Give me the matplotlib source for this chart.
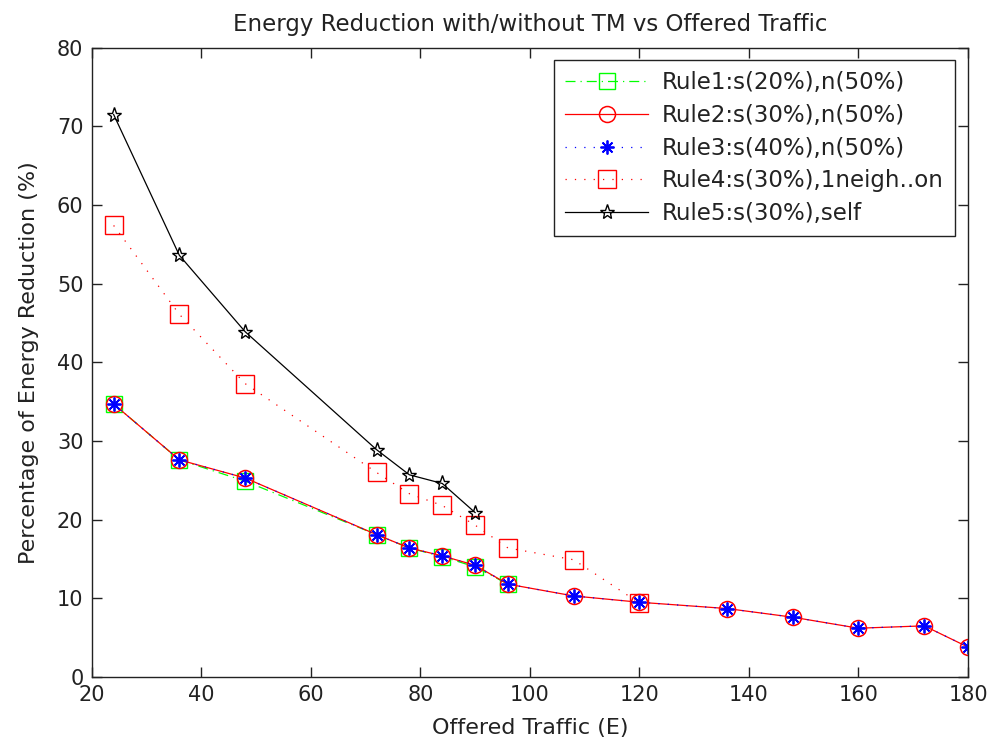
import matplotlib
matplotlib.use("Agg")
import matplotlib.pyplot as plt

plt.rcParams['font.family'] = ['DejaVu Sans']

# Offered traffic (Erlang) for each rule
x_rule1 = [24, 36, 48, 72, 78, 84, 90, 96]
x_rule23 = [24, 36, 48, 72, 78, 84, 90, 96, 108, 120, 136, 148, 160, 172, 180]
x_rule4 = [24, 36, 48, 72, 78, 84, 90, 96, 108, 120]
x_rule5 = [24, 36, 48, 72, 78, 84, 90]

# Percentage of energy reduction
y_rule1 = [34.7, 27.6, 24.9, 18.1, 16.4, 15.3, 14.0, 11.8]
y_rule2 = [34.7, 27.6, 25.3, 18.1, 16.4, 15.4, 14.2, 11.8, 10.3, 9.5, 8.7, 7.6, 6.2, 6.5, 3.8]
y_rule3 = [34.7, 27.6, 25.3, 18.1, 16.4, 15.4, 14.2, 11.8, 10.3, 9.5, 8.7, 7.6, 6.2, 6.5, 3.8]
y_rule4 = [57.4, 46.1, 37.3, 26.0, 23.3, 21.8, 19.3, 16.4, 14.9, 9.4]
y_rule5 = [71.5, 53.6, 43.9, 28.9, 25.7, 24.6, 20.9]

labels = ["Rule1:s(20%),n(50%)", "Rule2:s(30%),n(50%)", "Rule3:s(40%),n(50%)",
          "Rule4:s(30%),1neigh..on", "Rule5:s(30%),self"]
xticks = [20, 40, 60, 80, 100, 120, 140, 160, 180]
yticks = [0, 10, 20, 30, 40, 50, 60, 70, 80]

fig = plt.figure(figsize=(9.95, 7.45), dpi=100)
ax = fig.add_axes([0.0922, 0.0913, 0.8807, 0.8447])

lw = 0.9
dotted = (0, (1, 6.5))
asterisk = (8, 2, 0)
ink = '#222222'

ax.plot(x_rule1, y_rule1, color='#00ff00', linestyle=(0, (8, 4, 1, 4)), marker='s',
        markersize=12, markerfacecolor='none', markeredgecolor='#00ff00',
        linewidth=lw, label=labels[0])
ax.plot(x_rule23, y_rule2, color='#ff0000', linestyle='-', marker='o', markersize=11.5,
        markerfacecolor='none', markeredgecolor='#ff0000', markeredgewidth=1.1,
        linewidth=lw, label=labels[1])
ax.plot(x_rule23, y_rule3, color='#0000ff', linestyle=dotted, marker=asterisk,
        markersize=10, markeredgecolor='#0000ff', markeredgewidth=1.3,
        linewidth=lw, label=labels[2])
ax.plot(x_rule4, y_rule4, color='#ff0000', linestyle=dotted, marker='s', markersize=12.5,
        markerfacecolor='none', markeredgecolor='#ff0000', linewidth=lw, label=labels[3])
ax.plot(x_rule5, y_rule5, color='black', linestyle='-', marker='*', markersize=11,
        markerfacecolor='none', markeredgecolor='black', markeredgewidth=1.0,
        linewidth=lw, label=labels[4])

ax.set_xlim(20, 180)
ax.set_ylim(0, 80)
ax.set_xticks(xticks)
ax.set_yticks(yticks)
ax.tick_params(direction='in', top=True, right=True, length=7, labelsize=15,
               width=1, pad=6, colors=ink)
for s in ax.spines.values():
    s.set_linewidth(1)
    s.set_color(ink)

ax.set_title("Energy Reduction with/without TM vs Offered Traffic", fontsize=16.5,
             pad=12, color=ink)
ax.set_xlabel("Offered Traffic (E)", fontsize=16, labelpad=9, color=ink)
ax.set_ylabel("Percentage of Energy Reduction (%)", fontsize=16, labelpad=13, color=ink)

leg = ax.legend(loc='upper right', bbox_to_anchor=(0.985, 0.9805), borderaxespad=0,
                fontsize=16.5, frameon=True, fancybox=False, edgecolor=ink,
                handlelength=3.6, borderpad=0.5, labelspacing=0.42,
                handletextpad=0.6, framealpha=1)
leg.get_frame().set_linewidth(1)
for t in leg.get_texts():
    t.set_color(ink)

fig.savefig("out.png", dpi=100)
